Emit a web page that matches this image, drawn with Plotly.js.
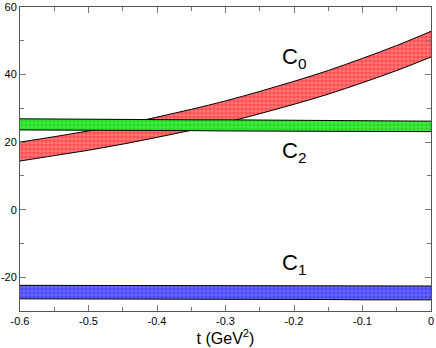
<!DOCTYPE html>
<html><head><meta charset="utf-8">
<script src="https://cdn.plot.ly/plotly-3.0.1.min.js"></script>
<style>html,body{margin:0;padding:0;background:#fff}</style>
</head><body><div id="chart" style="width:436px;height:348px"></div>
<script>
var t = [-0.6,-0.55,-0.5,-0.45,-0.4,-0.35,-0.3,-0.25,-0.2,-0.15,-0.1,-0.05,0];
var c0Low  = [14.4,16.0,17.6,19.4,21.4,23.5,25.8,28.4,31.2,34.2,37.6,41.2,45.2];
var c0High = [20.0,21.6,23.3,25.2,27.4,29.7,32.2,35.0,38.0,41.2,44.8,48.6,52.8];
var c2Low  = [23.6,23.6,23.5,23.5,23.4,23.4,23.3,23.3,23.3,23.2,23.2,23.1,23.1];
var c2High = [26.9,26.8,26.8,26.7,26.7,26.6,26.6,26.5,26.5,26.4,26.3,26.3,26.2];
var c1Low  = [-26.4,-26.4,-26.5,-26.5,-26.5,-26.5,-26.6,-26.6,-26.6,-26.6,-26.7,-26.7,-26.7];
var c1High = [-22.4,-22.4,-22.4,-22.5,-22.5,-22.5,-22.5,-22.5,-22.5,-22.6,-22.6,-22.6,-22.6];
var xTickVals = [-0.6,-0.5,-0.4,-0.3,-0.2,-0.1,0];
var xTickText = ["-0.6","-0.5","-0.4","-0.3","-0.2","-0.1","0"];
var yTickVals = [-20,0,20,40,60];
var yTickText = ["-20","0","20","40","60"];
var labels = [
  {text:"C<sub>0</sub>", x:-0.2, y:45},
  {text:"C<sub>2</sub>", x:-0.2, y:17},
  {text:"C<sub>1</sub>", x:-0.2, y:-16}
];

function band(lo, hi, fill, fg, bg, shape) {
  return [
    {x:t, y:lo, mode:'lines', line:{color:'black', width:1, shape:shape}, hoverinfo:'skip', showlegend:false},
    {x:t, y:hi, mode:'lines', line:{color:'black', width:1, shape:shape}, fill:'tonexty',
     fillcolor:fill, fillpattern:{shape:'+', fgcolor:fg, bgcolor:bg, size:4, solidity:0.25},
     hoverinfo:'skip', showlegend:false}
  ];
}
var data = [].concat(
  band(c1Low, c1High, 'rgba(60,60,255,0.8)', '#2020ff', '#6a6aff', 'linear'),
  band(c0Low, c0High, 'rgba(255,90,90,0.7)', '#ff2020', '#ff7a7a', 'spline'),
  band(c2Low, c2High, 'rgba(60,230,60,0.8)', '#10c010', '#40ee40', 'linear')
);
var axisCommon = {showgrid:false, zeroline:false, showline:true, linecolor:'#555', linewidth:1,
  mirror:'ticks', ticks:'inside', ticklen:6, tickcolor:'#777', tickwidth:1, ticklabeloverflow:'allow',
  tickfont:{family:'Liberation Sans, Arial, sans-serif', size:11, color:'#000'}};
var layout = {
  width:436, height:348, margin:{l:20, r:5, t:7, b:37},
  paper_bgcolor:'#fff', plot_bgcolor:'#fff', showlegend:false,
  xaxis:Object.assign({}, axisCommon, {range:[-0.6,0], tickmode:'array', tickvals:xTickVals, ticktext:xTickText,
    minor:{dtick:0.05, ticks:'inside', ticklen:4, tickcolor:'#777'},
    title:{text:'t (GeV<sup>2</sup>)', font:{family:'Liberation Sans, Arial, sans-serif', size:16, color:'#000'}, standoff:2}}),
  yaxis:Object.assign({}, axisCommon, {range:[-30,60], tickmode:'array', tickvals:yTickVals, ticktext:yTickText,
    minor:{dtick:10, ticks:'inside', ticklen:4, tickcolor:'#777'}}),
  annotations: labels.map(function(l){return {text:l.text, x:l.x, y:l.y, xref:'x', yref:'y', showarrow:false,
    font:{family:'Liberation Sans, Arial, sans-serif', size:22, color:'#000'}};})
};
Plotly.newPlot('chart', data, layout, {staticPlot:true});
</script></body></html>
